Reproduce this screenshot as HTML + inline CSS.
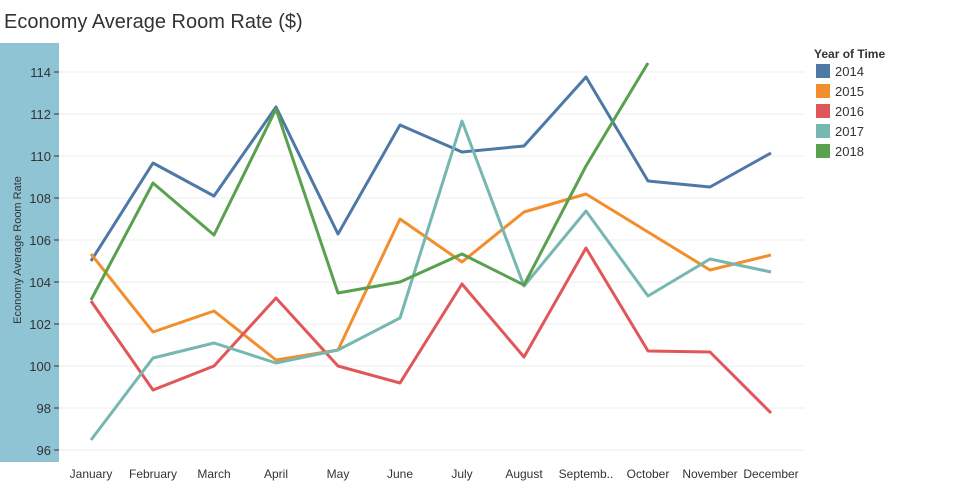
<!DOCTYPE html>
<html><head><style>
body{margin:0;background:#fff;font-family:"Liberation Sans",sans-serif;}
</style></head><body>
<svg width="953" height="482" xmlns="http://www.w3.org/2000/svg" font-family="Liberation Sans, sans-serif">
<text x="4" y="28" font-size="20" fill="#333">Economy Average Room Rate ($)</text>
<rect x="0" y="43" width="59" height="419" fill="#8fc4d4"/>
<text transform="translate(21,250) rotate(-90)" font-size="11" fill="#333" text-anchor="middle">Economy Average Room Rate</text>
<g stroke="#ececec" stroke-width="1">
<line x1="59" x2="805" y1="72" y2="72"/><line x1="59" x2="805" y1="114" y2="114"/>
<line x1="59" x2="805" y1="156" y2="156"/><line x1="59" x2="805" y1="198" y2="198"/>
<line x1="59" x2="805" y1="240" y2="240"/><line x1="59" x2="805" y1="282" y2="282"/>
<line x1="59" x2="805" y1="324" y2="324"/><line x1="59" x2="805" y1="366" y2="366"/>
<line x1="59" x2="805" y1="408" y2="408"/><line x1="59" x2="805" y1="450" y2="450"/>
</g>
<g stroke="#333" stroke-width="1">
<line x1="54" x2="59" y1="72" y2="72"/><line x1="54" x2="59" y1="114" y2="114"/>
<line x1="54" x2="59" y1="156" y2="156"/><line x1="54" x2="59" y1="198" y2="198"/>
<line x1="54" x2="59" y1="240" y2="240"/><line x1="54" x2="59" y1="282" y2="282"/>
<line x1="54" x2="59" y1="324" y2="324"/><line x1="54" x2="59" y1="366" y2="366"/>
<line x1="54" x2="59" y1="408" y2="408"/><line x1="54" x2="59" y1="450" y2="450"/>
</g>
<g font-size="13" fill="#333" text-anchor="end">
<text x="51" y="77">114</text><text x="51" y="119">112</text><text x="51" y="161">110</text>
<text x="51" y="203">108</text><text x="51" y="245">106</text><text x="51" y="287">104</text>
<text x="51" y="329">102</text><text x="51" y="371">100</text><text x="51" y="413">98</text>
<text x="51" y="455">96</text>
</g>
<g font-size="12" fill="#333" text-anchor="middle">
<text x="91" y="478">January</text><text x="153" y="478">February</text><text x="214" y="478">March</text>
<text x="276" y="478">April</text><text x="338" y="478">May</text><text x="400" y="478">June</text>
<text x="462" y="478">July</text><text x="524" y="478">August</text><text x="586" y="478">Septemb..</text>
<text x="648" y="478">October</text><text x="710" y="478">November</text><text x="771" y="478">December</text>
</g>
<g fill="none" stroke-width="3" stroke-linejoin="round">
<polyline stroke="#4e79a7" points="91,261 153,163 214,196 276,107 338,234 400,125 462,152 524,146 586,77 648,181 710,187 771,153"/>
<polyline stroke="#f28e2b" points="91,254 153,332 214,311 276,360 338,350 400,219 462,262 524,212 586,194 648,232 710,270 771,255"/>
<polyline stroke="#e15759" points="91,301 153,390 214,366 276,298 338,366 400,383 462,284 524,357 586,248 648,351 710,352 771,413"/>
<polyline stroke="#76b7b2" points="91,440 153,358 214,343 276,363 338,350 400,318 462,121 524,286 586,211 648,296 710,259 771,272"/>
<polyline stroke="#59a14f" points="91,300 153,183 214,235 276,109 338,293 400,282 462,254 524,285 586,166 648,63"/>
</g>
<text x="814" y="58" font-size="12" font-weight="bold" fill="#333">Year of Time</text>
<g font-size="13" fill="#333">
<rect x="816" y="64" width="14" height="14" fill="#4e79a7"/><text x="835" y="76">2014</text>
<rect x="816" y="84" width="14" height="14" fill="#f28e2b"/><text x="835" y="96">2015</text>
<rect x="816" y="104" width="14" height="14" fill="#e15759"/><text x="835" y="116">2016</text>
<rect x="816" y="124" width="14" height="14" fill="#76b7b2"/><text x="835" y="136">2017</text>
<rect x="816" y="144" width="14" height="14" fill="#59a14f"/><text x="835" y="156">2018</text>
</g>
</svg>
</body></html>
